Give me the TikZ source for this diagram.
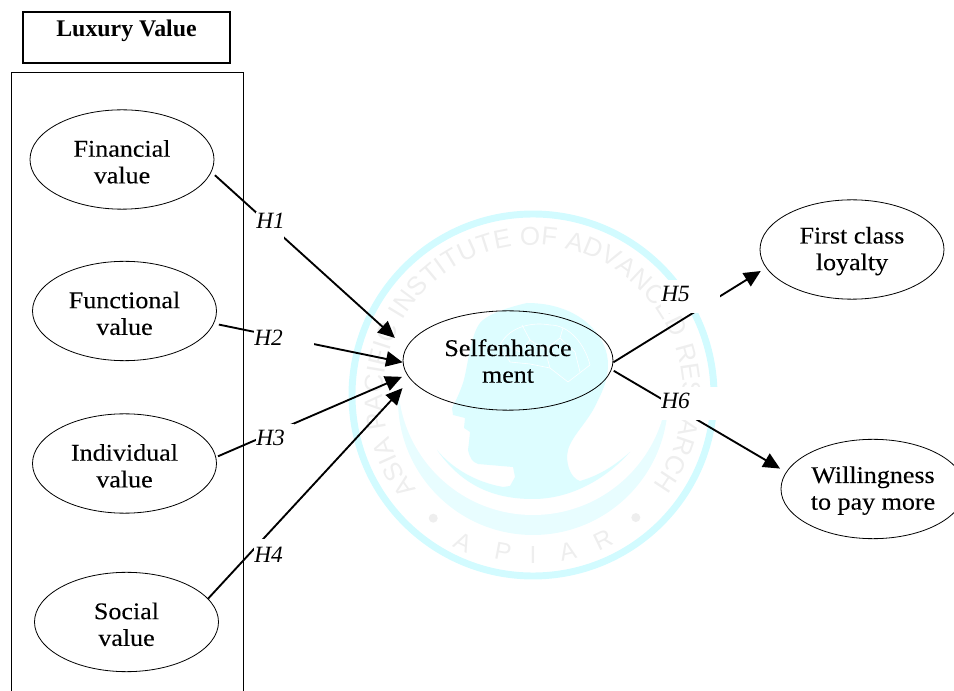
\documentclass[tikz,border=0pt]{standalone}
\usepackage{fontspec}
\setmainfont{Liberation Serif}
\newfontfamily\bodyfont[FakeStretch=1.085,FakeBold=0.12]{Liberation Serif}
\newfontfamily\wmfont{Liberation Sans}
\usetikzlibrary{shapes.geometric,arrows.meta,decorations.text}
\definecolor{wmring}{HTML}{D2FBFF}
\definecolor{wmband}{HTML}{E8FDFF}
\definecolor{wmhead}{HTML}{DDFDFF}
\definecolor{wmtext}{HTML}{EEEEEE}
\newcommand{\twolines}[3]{\rule{0pt}{#1}#2\\#3\rule[-4.5pt]{0pt}{0pt}}
\newcommand{\wmfmt}{\wmfont\fontsize{19.5}{20}\selectfont\color{wmtext}}
\tikzset{
  oval/.style={ellipse,draw=black,line width=0.6pt,inner sep=0pt,align=center,
    minimum width=138pt,minimum height=74.5pt,font=\bodyfont\fontsize{18}{20}\selectfont},
  conn/.style={line width=1.4pt,-{Triangle[length=12.5pt,width=11.5pt]}},
  hlabel/.style 2 args={anchor=base west,fill=white,inner sep=0pt,text height=#1,text depth=#2,
    font=\itshape\fontsize{17.5}{18}\selectfont,align=left},
  wmletter/.style={text=wmtext,font=\wmfont\fontsize{18.5}{19}\selectfont,inner sep=0pt},
  brain/.style={draw=white,line width=0.45pt}
}
\begin{document}
\begin{tikzpicture}[x=0.75pt,y=-0.75pt]
\clip (0,0) rectangle (954,691);
% watermark
\draw[wmring,line width=5.2pt] (533,395) circle[radius=181];
\fill[wmband] (533,400) circle[radius=135];
\fill[white] (533,380) circle[radius=135];
\fill[wmhead] plot[smooth,tension=0.55] coordinates {(527,303) (480,323) (463,383) (452,408)}
  -- (453,415) -- (465,418) -- (464,428) -- (470,432) -- (469,442) -- (468,450)
  .. controls (470,458) and (472,462) .. (478,464) -- (513,467) -- (515,477) -- (510,486) -- (503,487)
  .. controls (475,482) and (452,468) .. (437,450)
  .. controls (465,490) and (500,499) .. (533,499)
  .. controls (570,499) and (605,480) .. (630,452)
  .. controls (612,468) and (597,476) .. (580,481)
  .. controls (570,478) and (565,462) .. (568,450)
  .. controls (572,435) and (590,420) .. (598,400)
  .. controls (606,385) and (610,370) .. (607,355)
  .. controls (602,330) and (575,303) .. (527,303) -- cycle;
\draw[brain] (500,345) .. controls (510,325) and (535,322) .. (550,325) .. controls (570,325) and (585,345) .. (590,365);
\draw[brain] (505,345) -- (520,352) -- (530,340) -- (545,350) -- (560,338) -- (575,352);
\draw[brain] (522,325) -- (530,340) (545,350) -- (550,368) -- (568,382) -- (590,365);
\draw[brain] (500,345) -- (510,362) -- (530,364) -- (550,368) (575,352) -- (580,372) (563,328) -- (560,338);
\begin{scope}[shift={(533,395)},y=0.75pt]
  \path[decorate,decoration={text along path,text align={fit to path},
    text={|\wmfmt|ASIA PACIFIC INSTITUTE OF ADVANCED RESEARCH}}]
    (219:150) arc[start angle=219,end angle=-37,radius=150];
  \node[wmletter,rotate=-25.5] (wa) at (-115.5:163) {A};
  \node[wmletter,rotate=-10.8] (wp) at (-100.8:160) {P};
  \node[wmletter] (wi) at (-90:160) {I};
  \node[wmletter,rotate=12.6] (wb) at (-77.4:160) {A};
  \node[wmletter,rotate=25.8] (wr) at (-64.2:161) {R};
  \fill[wmtext] (-129:158.5) circle[radius=4.5] (-50:160) circle[radius=4.5];
\end{scope}
% boxes
\node[draw=black,line width=0.7pt,anchor=north west,minimum width=174pt,minimum height=480pt,inner sep=0pt] (group) at (10.5,72.5) {};
\node[draw=black,line width=1.15pt,minimum width=155pt,minimum height=38pt,inner sep=0pt,
  text height=18.5pt,text depth=19.7pt,font=\bfseries\fontsize{17.9}{20}\selectfont] (lux) at (126.5,37.5) {Luxury Value};
% ovals
\node[oval] (fin) at (122,159.5) {\twolines{20.3pt}{Financial}{value}};
\node[oval] (func) at (124.5,311) {\twolines{20.3pt}{Functional}{value}};
\node[oval] (ind) at (124.5,463.5) {\twolines{20.3pt}{Individual}{value}};
\node[oval] (soc) at (126.5,622) {\twolines{20.3pt}{Social}{value}};
\node[oval,minimum width=157.5pt] (self) at (508,360.5) {\twolines{17.8pt}{Selfenhance}{ment}};
\node[oval] (first) at (852,249.5) {\twolines{15.5pt}{First class}{loyalty}};
\node[oval] (will) at (873,489) {\twolines{15.5pt}{Willingness}{to pay more}};
% connectors
\draw[conn,shorten <=3.5pt,shorten >=11.25pt] (fin.-8.5) -- (self.173.3);
\draw[conn,shorten <=3.8pt] (func.-8.8) -- (self.181.4);
\draw[conn,shorten <=1.5pt,shorten >=4.1pt] (ind.4) -- (self.188.5);
\draw[conn,shorten >=8.8pt] (soc.16.7) -- (self.191.1);
\draw[conn,shorten >=4.6pt] (self.-1.9) -- (first.192.8);
\draw[conn,shorten <=1.8pt,shorten >=5.2pt] (self.-5.7) -- (will.169.3);
% hypothesis labels
\node[hlabel={12.75pt}{7.5pt},text width=21pt] (h1) at (256,229) {H1};
\node[hlabel={14pt}{5.5pt},text width=45pt] (h2) at (254,345.7) {H2};
\node[hlabel={16.5pt}{7pt},text width=28pt] (h3) at (256,446) {H3};
\node[hlabel={17.8pt}{5.5pt},text width=23pt] (h4) at (254,562.7) {H4};
\node[hlabel={16pt}{8.5pt},text width=44.25pt] (h5) at (661,301.7) {H5};
\node[hlabel={16.5pt}{8.25pt},text width=44.25pt] (h6) at (661,409) {H6};
\end{tikzpicture}
\end{document}
